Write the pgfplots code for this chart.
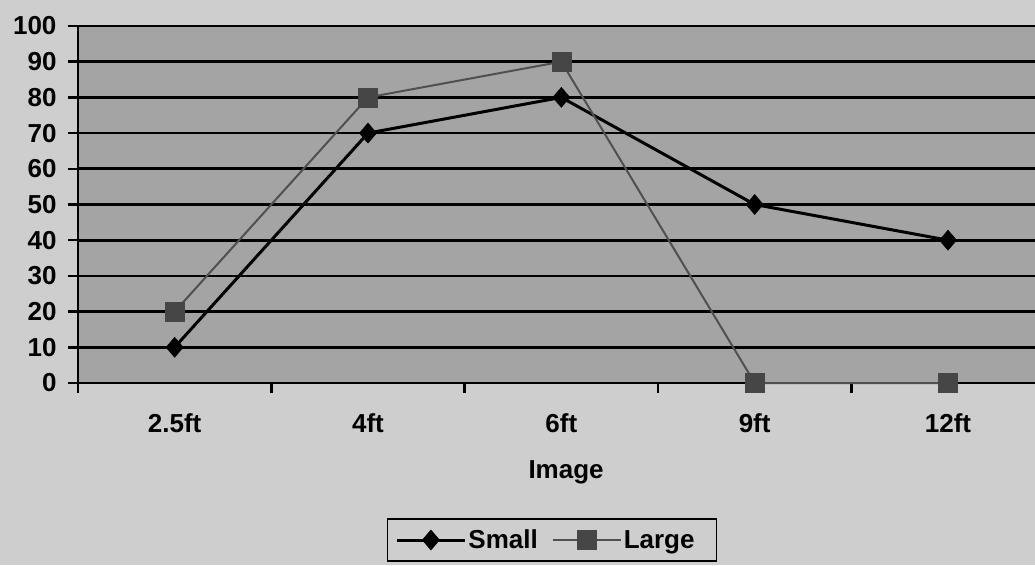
\documentclass[border=0pt]{standalone}
\usepackage{pgfplots}
\pgfplotsset{compat=1.18}
\usepackage{fontspec}
\setmainfont{Liberation Sans}

\definecolor{pagebg}{RGB}{206,206,206}
\definecolor{plotbg}{RGB}{164,164,164}
\definecolor{largeline}{RGB}{80,80,80}
\definecolor{largemark}{RGB}{70,70,70}

\begin{document}
\begin{tikzpicture}[x=1pt,y=1pt]
\fill[pagebg] (0,0) rectangle (1035,565);
\useasboundingbox (0,0) rectangle (1035,565);
\begin{axis}[
  at={(78pt,182pt)}, anchor=south west,
  scale only axis, width=957pt, height=357pt,
  xmin=-0.5, xmax=4.45, ymin=0, ymax=100,
  axis x line=bottom, axis y line=left,
  axis line style={line width=2.8pt, black, -},
  axis background/.style={fill=plotbg},
  font=\bfseries\fontsize{26}{30}\selectfont,
  /pgf/number format/assume math mode=true,
  xtick={0,1,2,3,4},
  xticklabels={2.5ft,4ft,6ft,9ft,12ft},
  major x tick style={draw=none},
  minor xtick={-0.5,0.5,1.5,2.5,3.5},
  minor x tick style={line width=2.4pt, black},
  minor tick length=10pt,
  xticklabel style={yshift=-17pt},
  ytick={0,10,...,100},
  major y tick style={line width=2.4pt, black},
  major tick length=10pt,
  tick align=outside,
  yticklabel style={xshift=-8pt},
  ymajorgrids,
  grid style={line width=2.8pt, black},
  xlabel={Image},
  xlabel style={at={(axis description cs:0.51,-0.249)}, anchor=center},
  legend style={at={(axis description cs:0.4953,-0.4398)}, anchor=center,
    draw=black, line width=1.5pt, fill=pagebg, legend columns=2,
    font=\bfseries\fontsize{26}{30}\selectfont,
    inner ysep=9pt, inner xsep=8pt,
    /tikz/every even column/.append style={column sep=12pt}},
  legend image code/.code={
    \draw[mark repeat=2,mark phase=2] plot coordinates {(0pt,0pt) (34pt,0pt) (68pt,0pt)};
  },
  clip=false,
]
\addplot[line width=3pt, black, mark=diamond*, mark size=10pt,
  mark options={fill=black, line width=0.5pt, xscale=1.15}]
  coordinates {(0,10) (1,70) (2,80) (3,50) (4,40)};
\addlegendentry{Small}
\addplot[line width=2pt, largeline, mark=square*, mark size=9.5pt,
  mark options={fill=largemark, draw=largemark, line width=0.5pt}]
  coordinates {(0,20) (1,80) (2,90) (3,0) (4,0)};
\addlegendentry{Large\kern 12pt\null}
\end{axis}
\end{tikzpicture}
\end{document}
